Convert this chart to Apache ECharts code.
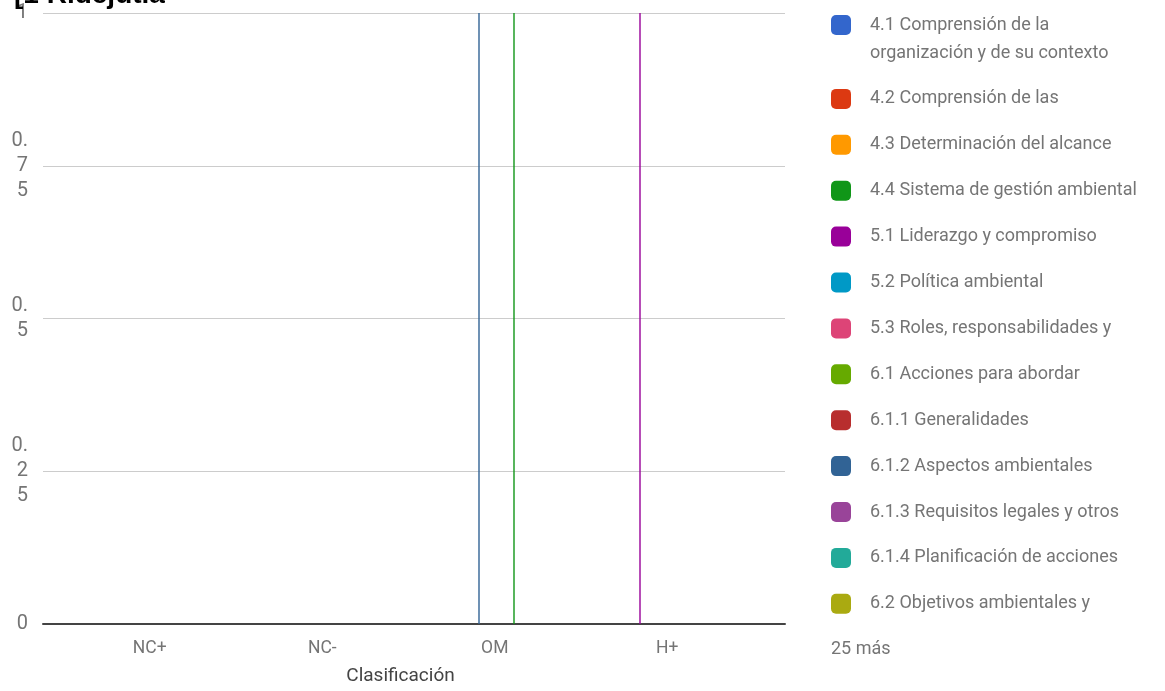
<!DOCTYPE html>
<html>
<head>
<meta charset="utf-8">
<script src="https://cdn.jsdelivr.net/npm/echarts@6/dist/echarts.min.js"></script>
<style>
html,body{margin:0;padding:0;background:#fff;}
#chart{width:1165px;height:691px;}
</style>
</head>
<body>
<div id="chart"></div>
<script>
const titleText = '[1 Ridejutia';
const categories = ['NC+', 'NC-', 'OM', 'H+'];
const axisTitle = 'Clasificación';
const yTicks = [0, 0.25, 0.5, 0.75, 1];
const yTickLabels = ['0', '0.\n2\n5', '0.\n5', '0.\n7\n5', '1'];
const seriesNames = [
  '4.1 Comprensión de la organización y de su contexto',
  '4.2 Comprensión de las',
  '4.3 Determinación del alcance',
  '4.4 Sistema de gestión ambiental',
  '5.1 Liderazgo y compromiso',
  '5.2 Política ambiental',
  '5.3 Roles, responsabilidades y',
  '6.1 Acciones para abordar',
  '6.1.1 Generalidades',
  '6.1.2 Aspectos ambientales',
  '6.1.3 Requisitos legales y otros',
  '6.1.4 Planificación de acciones',
  '6.2 Objetivos ambientales y',
  '6.2.1 Objetivos ambientales',
  '6.2.2 Planificación de acciones para lograr',
  '7.1 Recursos',
  '7.2 Competencia',
  '7.3 Toma de conciencia',
  '7.4 Comunicación',
  '7.4.1 Generalidades',
  '7.4.2 Comunicación interna',
  '7.4.3 Comunicación externa',
  '7.5 Información documentada',
  '7.5.1 Generalidades',
  '7.5.2 Creación y actualización',
  '7.5.3 Control de la información',
  '8.1 Planificación y control operacional',
  '8.2 Preparación y respuesta ante emergencias',
  '9.1 Seguimiento, medición, análisis',
  '9.1.1 Generalidades',
  '9.1.2 Evaluación del cumplimiento',
  '9.2 Auditoría interna',
  '9.2.1 Generalidades',
  '9.2.2 Programa de auditoría interna',
  '9.3 Revisión por la dirección',
  '10.1 Generalidades',
  '10.2 No conformidad y acción correctiva',
  '10.3 Mejora continua'
];
// values per series for [NC+, NC-, OM, H+]
const seriesValues = [
  [0,0,0,0],[0,0,0,0],[0,0,0,0],[0,0,0,0],[0,0,0,1],
  [0,0,0,0],[0,0,0,0],[0,0,0,0],[0,0,0,0],[0,0,1,0],
  [0,0,0,0],[0,0,0,0],[0,0,0,0],[0,0,0,0],[0,0,0,0],
  [0,0,0,0],[0,0,0,0],[0,0,0,0],[0,0,0,0],[0,0,0,0],
  [0,0,0,0],[0,0,0,0],[0,0,0,0],[0,0,0,0],[0,0,0,0],
  [0,0,0,0],[0,0,0,0],[0,0,0,0],[0,0,0,0],[0,0,0,0],
  [0,0,0,0],[0,0,0,0],[0,0,0,0],[0,0,0,0],[0,0,1,0],
  [0,0,0,0],[0,0,0,0],[0,0,0,0]
];
const palette = ['#3366cc','#dc3912','#ff9900','#109618','#990099','#0099c6','#dd4477','#66aa00','#b82e2e','#316395','#994499','#22aa99','#aaaa11','#6633cc','#e67300','#8b0707','#651067','#329262','#5574a6','#3b3eac','#b77322','#16d620','#b91383','#f4359e','#9c5935','#a9c413','#2a778d','#668d1c','#bea413','#0c5922','#743411'];
const legendShown = 13;
const moreText = '25 más';

const chart = echarts.init(document.getElementById('chart'), null, {renderer: 'canvas'});

const series = seriesNames.map((name, i) => ({
  name: name,
  type: 'bar',
  xAxisIndex: 0,
  yAxisIndex: 0,
  barWidth: 1.4,
  barGap: '0%',
  itemStyle: {color: palette[i % palette.length]},
  data: seriesValues[i],
  silent: true
}));

const legendData = seriesNames.slice(0, legendShown);

chart.setOption({
  animation: false,
  backgroundColor: '#ffffff',
  title: {
    text: titleText,
    left: 14, top: -19,
    padding: 0,
    textStyle: {fontFamily: 'Liberation Sans', fontSize: 28, fontWeight: 'bold', color: '#000'}
  },
  legend: {
    orient: 'vertical',
    left: 831, top: -17,
    padding: 0,
    itemWidth: 20, itemHeight: 20,
    itemGap: 17.9,
    icon: 'roundRect',
    selectedMode: false,
    data: legendData,
    formatter: function (name) {
      if (name === seriesNames[0]) return '\n4.1 Comprensión de la\norganización y de su contexto';
      return name;
    },
    textStyle: {fontFamily: 'Roboto', fontSize: 18, color: '#757575', lineHeight: 28, padding: [0, 0, 0, 14]}
  },
  graphic: [{
    type: 'text', left: 831, top: 640,
    style: {text: moreText, fontFamily: 'Roboto', fontSize: 18, fill: '#757575'}
  }],
  grid: [
    {left: 72.3, top: 13, width: 672, height: 611, containLabel: false},
    {left: 43, top: 13, width: 742, height: 611, containLabel: false},
    {left: 63.5, top: 13, width: 690, height: 611, containLabel: false}
  ],
  xAxis: [
    {
      gridIndex: 0, type: 'category', data: categories,
      axisLine: {show: false}, axisTick: {show: false}, axisLabel: {show: false}
    },
    {
      gridIndex: 1, type: 'value', min: 0, max: 1,
      axisLine: {show: true, lineStyle: {color: '#444', width: 2}},
      axisTick: {show: false}, axisLabel: {show: false}, splitLine: {show: false}
    },
    {
      gridIndex: 2, type: 'category', data: categories,
      axisLine: {show: false}, axisTick: {show: false},
      axisLabel: {color: '#757575', fontFamily: 'Roboto', fontSize: 17.5, margin: 21},
      name: axisTitle, nameLocation: 'middle', nameGap: 48,
      nameTextStyle: {color: '#444', fontFamily: 'Roboto', fontSize: 19, padding: [0, 16, 0, 0]}
    }
  ],
  yAxis: [
    {gridIndex: 0, type: 'value', min: 0, max: 1, show: false, splitLine: {show: false}},
    {
      gridIndex: 1, type: 'value', min: 0, max: 1, interval: 0.25,
      axisLine: {show: false}, axisTick: {show: false},
      splitLine: {show: true, lineStyle: {color: '#cccccc', width: 1}},
      axisLabel: {
        color: '#757575', fontFamily: 'Roboto', fontSize: 20, lineHeight: 25, margin: 15,
        formatter: function (v) {
          const idx = yTicks.findIndex(t => Math.abs(t - v) < 1e-9);
          return idx >= 0 ? yTickLabels[idx] : '';
        }
      }
    },
    {gridIndex: 2, type: 'value', min: 0, max: 1, show: false, splitLine: {show: false}}
  ],
  series: series
});
</script>
</body>
</html>
